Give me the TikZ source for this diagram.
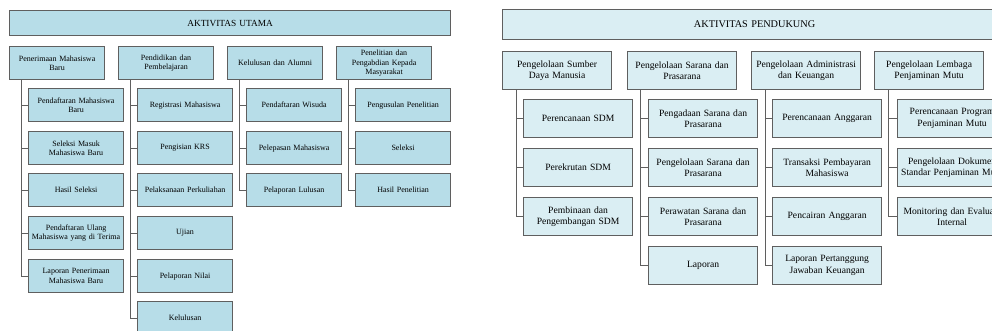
\documentclass[tikz,border=0pt]{standalone}
\usepackage{fontspec}
\setmainfont{Liberation Serif}
\definecolor{utamafill}{HTML}{B7DDE8}
\definecolor{dukungfill}{HTML}{DAEEF3}
\definecolor{boxline}{HTML}{5F5F5F}
\begin{document}
\begin{tikzpicture}[x=0.75pt,y=-0.75pt,
    utama/.style={draw=boxline,line width=0.9pt,fill=utamafill,anchor=north west,
        minimum width=71.25pt,minimum height=24.75pt,text width=68pt,inner sep=1pt,
        align=center,font=\fontsize{6}{7.2}\selectfont},
    dukung/.style={draw=boxline,line width=0.9pt,fill=dukungfill,anchor=north west,
        minimum width=81.75pt,minimum height=28.5pt,text width=79pt,inner sep=1pt,
        align=center,font=\fontsize{7.2}{8.8}\selectfont},
    link/.style={draw=boxline,line width=0.75pt}]
    \clip (0,0) rectangle (992,331);
    % aktivitas utama
    \node[utama,minimum width=330.75pt,minimum height=18.75pt,text width=320pt,font=\fontsize{7}{8}\selectfont] (utama) at (9,10) {AKTIVITAS UTAMA};
    \node[utama] (u1) at (9,46) {Penerimaan Mahasiswa\\Baru};
    \node[utama] (u2) at (118,46) {Pendidikan dan\\Pembelajaran};
    \node[utama] (u3) at (227,46) {Kelulusan dan Alumni};
    \node[utama] (u4) at (336,46) {Penelitian dan\\Pengabdian Kepada\\Masyarakat};
    \node[utama] (u11) at (28,88) {Pendaftaran Mahasiswa\\Baru};
    \node[utama] (u12) at (28,131) {Seleksi Masuk\\Mahasiswa Baru};
    \node[utama] (u13) at (28,173) {Hasil Seleksi};
    \node[utama] (u14) at (28,216) {Pendaftaran Ulang\\Mahasiswa yang di Terima};
    \node[utama] (u15) at (28,259) {Laporan Penerimaan\\Mahasiswa Baru};
    \node[utama] (u21) at (137,88) {Registrasi Mahasiswa};
    \node[utama] (u22) at (137,131) {Pengisian KRS};
    \node[utama] (u23) at (137,173) {Pelaksanaan Perkuliahan};
    \node[utama] (u24) at (137,216) {Ujian};
    \node[utama] (u25) at (137,259) {Pelaporan Nilai};
    \node[utama] (u26) at (137,301) {Kelulusan};
    \node[utama] (u31) at (246,88) {Pendaftaran Wisuda};
    \node[utama] (u32) at (246,131) {Pelepasan Mahasiswa};
    \node[utama] (u33) at (246,173) {Pelaporan Lulusan};
    \node[utama] (u41) at (355,88) {Pengusulan Penelitian};
    \node[utama] (u42) at (355,131) {Seleksi};
    \node[utama] (u43) at (355,173) {Hasil Penelitian};
    \coordinate (su1) at ([xshift=9pt]u1.south west);
    \coordinate (su2) at ([xshift=9pt]u2.south west);
    \coordinate (su3) at ([xshift=9pt]u3.south west);
    \coordinate (su4) at ([xshift=9pt]u4.south west);
    \draw[link] (su1) |- (u15.west) (u11.west) -- (u11.west -| su1) (u12.west) -- (u12.west -| su1)
        (u13.west) -- (u13.west -| su1) (u14.west) -- (u14.west -| su1);
    \draw[link] (su2) |- (u26.west) (u21.west) -- (u21.west -| su2) (u22.west) -- (u22.west -| su2)
        (u23.west) -- (u23.west -| su2) (u24.west) -- (u24.west -| su2) (u25.west) -- (u25.west -| su2);
    \draw[link] (su3) |- (u33.west) (u31.west) -- (u31.west -| su3) (u32.west) -- (u32.west -| su3);
    \draw[link] (su4) |- (u43.west) (u41.west) -- (u41.west -| su4) (u42.west) -- (u42.west -| su4);
    % aktivitas pendukung
    \node[dukung,minimum width=378pt,minimum height=22.5pt,text width=370pt,font=\fontsize{7.7}{9}\selectfont] (dukung) at (502,9) {AKTIVITAS PENDUKUNG};
    \node[dukung] (d1) at (502,51) {Pengelolaan Sumber\\Daya Manusia};
    \node[dukung] (d2) at (627,51) {Pengelolaan Sarana dan\\Prasarana};
    \node[dukung] (d3) at (751,51) {Pengelolaan Administrasi\\dan Keuangan};
    \node[dukung] (d4) at (874,51) {Pengelolaan Lembaga\\Penjaminan Mutu};
    \node[dukung] (d11) at (523,99) {Perencanaan SDM};
    \node[dukung] (d12) at (523,148) {Perekrutan SDM};
    \node[dukung] (d13) at (523,197) {Pembinaan dan\\Pengembangan SDM};
    \node[dukung] (d21) at (648,99) {Pengadaan Sarana dan\\Prasarana};
    \node[dukung] (d22) at (648,148) {Pengelolaan Sarana dan\\Prasarana};
    \node[dukung] (d23) at (648,197) {Perawatan Sarana dan\\Prasarana};
    \node[dukung] (d24) at (648,246) {Laporan};
    \node[dukung] (d31) at (772,99) {Perencanaan Anggaran};
    \node[dukung] (d32) at (772,148) {Transaksi Pembayaran\\Mahasiswa};
    \node[dukung] (d33) at (772,197) {Pencairan Anggaran};
    \node[dukung] (d34) at (772,246) {Laporan Pertanggung\\Jawaban Keuangan};
    \node[dukung] (d41) at (897,99) {Perencanaan Program\\Penjaminan Mutu};
    \node[dukung] (d42) at (897,148) {Pengelolaan Dokumen\\Standar Penjaminan Mutu};
    \node[dukung] (d43) at (897,197) {Monitoring dan Evaluasi\\Internal};
    \coordinate (sd1) at ([xshift=10.5pt]d1.south west);
    \coordinate (sd2) at ([xshift=10pt]d2.south west);
    \coordinate (sd3) at ([xshift=10.5pt]d3.south west);
    \coordinate (sd4) at ([xshift=11pt]d4.south west);
    \draw[link] (sd1) |- (d13.west) (d11.west) -- (d11.west -| sd1) (d12.west) -- (d12.west -| sd1);
    \draw[link] (sd2) |- (d24.west) (d21.west) -- (d21.west -| sd2) (d22.west) -- (d22.west -| sd2)
        (d23.west) -- (d23.west -| sd2);
    \draw[link] (sd3) |- (d34.west) (d31.west) -- (d31.west -| sd3) (d32.west) -- (d32.west -| sd3)
        (d33.west) -- (d33.west -| sd3);
    \draw[link] (sd4) |- (d43.west) (d41.west) -- (d41.west -| sd4) (d42.west) -- (d42.west -| sd4);
\end{tikzpicture}
\end{document}
